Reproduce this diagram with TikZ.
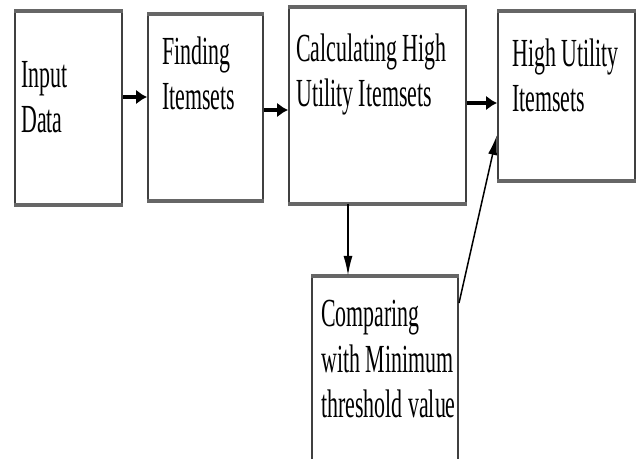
\documentclass[tikz,border=0pt]{standalone}
\usepackage{fontspec}
\newfontfamily\boxfont[FakeStretch=0.55]{Liberation Serif}
\usetikzlibrary{arrows.meta}
\newcommand{\pxu}{0.03cm}

\begin{document}
\begin{tikzpicture}[x=\pxu,y=\pxu,
    box/.style={draw=black!75,line width=2*\pxu,minimum width=#1*\pxu,inner sep=0},
    rim/.style={draw=black!60,line width=4*\pxu},
    txt/.style={font=\boxfont\fontsize{34}{39.1}\selectfont,align=left,anchor=base west,inner sep=0},
    arr/.style={line width=3.5*\pxu,-{Latex[length=11*\pxu,width=15*\pxu]}},
    thinarr/.style={line width=#1*\pxu,-{Latex[length=20*\pxu,width=9*\pxu]}}]
  \useasboundingbox (0,0) rectangle (637,459);
  % boxes
  \node[box=107,minimum height=192*\pxu] (input) at (68.5,351) {};
  \node[box=115,minimum height=185*\pxu] (finding) at (205.5,351.5) {};
  \node[box=177,minimum height=195*\pxu] (calc) at (377.5,353.5) {};
  \node[box=137,minimum height=168*\pxu] (result) at (566.5,363) {};
  \node[box=146,minimum height=185*\pxu] (compare) at (385,89.5) {};
  \foreach \b in {input,finding,calc,result,compare} {
    \draw[rim] (\b.north west) -- (\b.north east);
    \draw[rim] (\b.south west) -- (\b.south east);
  }
  % texts (base = last line)
  \node[txt] (inputtxt) at ([xshift=7*\pxu,yshift=-122*\pxu]input.north west) {Input\\Data};
  \node[txt] (findingtxt) at ([xshift=15*\pxu,yshift=-96*\pxu]finding.north west) {Finding\\Itemsets};
  \node[txt] (calctxt) at ([xshift=8*\pxu,yshift=-100*\pxu]calc.north west) {Calculating High\\Utility Itemsets};
  \node[txt] (resulttxt) at ([xshift=15*\pxu,yshift=-101*\pxu]result.north west) {High Utility\\Itemsets};
  \node[txt] (comparetxt) at ([xshift=10*\pxu,yshift=-142*\pxu]compare.north west) {Comparing\\with Minimum\\threshold value};
  % arrows
  \draw[arr] ([yshift=11*\pxu]input.east) coordinate (a1) -- (a1 -| finding.west);
  \draw[arr] ([yshift=-2.5*\pxu]finding.east) coordinate (a2) -- (a2 -| calc.west);
  \draw[arr] ([yshift=2.5*\pxu]calc.east) coordinate (a3) -- (a3 -| result.west);
  \draw[thinarr=2] ([xshift=-29.5*\pxu]calc.south) coordinate (a4) -- (a4 |- compare.north);
  \draw[thinarr=1.5] ([yshift=66.5*\pxu]compare.east) -- ([yshift=-39*\pxu]result.west);
\end{tikzpicture}
\end{document}
